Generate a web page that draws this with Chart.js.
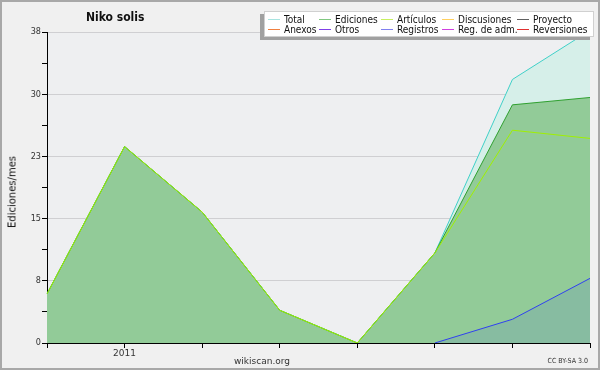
<!DOCTYPE html>
<html><head><meta charset="utf-8">
<script src="https://cdn.jsdelivr.net/npm/chart.js@4.4.1/dist/chart.umd.min.js"></script>
<style>
html,body{margin:0;padding:0;background:#f0f0f0;}
#wrap{position:relative;width:600px;height:370px;overflow:hidden;font-family:"DejaVu Sans Condensed","DejaVu Sans",sans-serif;}
#frame{position:absolute;left:0;top:0;width:596px;height:366px;border:2px solid #a8a8a8;pointer-events:none;}
canvas{position:absolute;left:0;top:0;}
.t{position:absolute;white-space:nowrap;color:#111;}
#legend{position:absolute;left:264px;top:11px;width:328px;height:24px;background:#fff;border:1px solid #d0d0d0;box-shadow:-4px 3px 0 #a0a0a0;}
.li{position:absolute;font-size:10px;line-height:11px;color:#111;white-space:nowrap;}
.li i{position:absolute;top:5px;width:12px;height:1px;}
.li span{position:absolute;top:0;white-space:nowrap;}
</style></head>
<body><div id="wrap">
<canvas id="c" width="600" height="370"></canvas>
<div class="t" style="left:86px;top:10px;font-weight:bold;font-size:12px;">Niko solis</div>
<div class="t" style="left:12px;top:192px;font-size:10px;font-family:'DejaVu Sans',sans-serif;transform:translate(-50%,-50%) rotate(-90deg);">Ediciones/mes</div>
<div class="t" style="left:262px;top:361px;font-size:9px;color:#333;transform:translate(-50%,-50%);font-family:'DejaVu Sans',sans-serif;">wikiscan.org</div>
<div class="t" style="right:12px;top:357px;font-size:7px;color:#333;">CC BY-SA 3.0</div>
<div id="legend"></div>
<div id="frame"></div>
</div>
<script>
const labels = ['', '2011', '', '', '', '', '', ''];
const total     = [6, 24, 16, 4, 0, 11, 32.2, 38.2];
const ediciones = [6, 24, 16, 4, 0, 11, 29.1, 30.0];
const articulos = [6, 24, 16, 4, 0, 11, 26.0, 25.0];
const registros = [null, null, null, null, null, 0, 2.9, 7.9];
const yTicks = [0, 3.8, 7.6, 11.4, 15.2, 19, 22.8, 26.6, 30.4, 34.2, 38];

const legendItems = [
  ['Total', '#a8e4e0'], ['Ediciones', '#80c880'], ['Artículos', '#c8f060'], ['Discusiones', '#ffd060'], ['Proyecto', '#606060'],
  ['Anexos', '#f08040'], ['Otros', '#8040e8'], ['Registros', '#8080f0'], ['Reg. de adm.', '#d040e0'], ['Reversiones', '#e03030']
];
const colX = [3, 54, 116, 177, 252];
const lg = document.getElementById('legend');
legendItems.forEach((it, i) => {
  const col = i % 5, row = Math.floor(i / 5);
  const d = document.createElement('div');
  d.className = 'li';
  d.style.left = colX[col] + 'px';
  d.style.top = (2 + row * 10) + 'px';
  d.innerHTML = '<i style="left:0;background:' + it[1] + '"></i><span style="left:16px">' + it[0] + '</span>';
  lg.appendChild(d);
});

const bgPlugin = {
  id: 'bg',
  beforeDraw(chart) {
    const {ctx, chartArea: a} = chart;
    ctx.save();
    ctx.fillStyle = '#eeeff1';
    ctx.fillRect(a.left, a.top, a.right - a.left, a.bottom - a.top);
    ctx.restore();
  }
};

new Chart(document.getElementById('c'), {
  type: 'line',
  data: {
    labels: labels,
    datasets: [
      {label: 'Total', data: total, borderColor: '#40d0c8', backgroundColor: '#d6efe9', fill: 'origin', order: 4},
      {label: 'Ediciones', data: ediciones, borderColor: '#30a030', backgroundColor: '#92cb98', fill: 'origin', order: 3},
      {label: 'Artículos', data: articulos, borderColor: '#a0f000', backgroundColor: 'rgba(0,0,0,0)', fill: false, order: 1},
      {label: 'Registros', data: registros, borderColor: '#3040f0', backgroundColor: 'rgba(60,80,230,0.12)', fill: 'origin', order: 2}
    ]
  },
  options: {
    responsive: false,
    animation: false,
    devicePixelRatio: 1,
    layout: {padding: {left: 0, right: 10, top: 32, bottom: 0}},
    elements: {line: {borderWidth: 1, tension: 0}, point: {radius: 0}},
    plugins: {legend: {display: false}, title: {display: false}, tooltip: {enabled: false}},
    scales: {
      x: {
        offset: false,
        grid: {drawOnChartArea: false, color: '#000', tickColor: '#000', tickLength: 5},
        border: {color: '#000', width: 1},
        ticks: {autoSkip: false, maxRotation: 0, color: '#333', font: {family: 'DejaVu Sans', size: 9}, padding: 0},
        afterFit(s) { s.height = 27; }
      },
      y: {
        min: 0, max: 38,
        afterBuildTicks(s) { s.ticks = yTicks.map(v => ({value: v})); },
        grid: {
          color: (c) => (c.index % 2 === 0 && c.index > 0) ? '#cfcfd2' : 'rgba(0,0,0,0)',
          tickColor: '#000', tickLength: 5
        },
        border: {color: '#000', width: 1},
        ticks: {
          color: '#333', font: {family: 'DejaVu Sans Condensed', size: 9}, padding: 1,
          callback: function(v, i) { return i % 2 === 0 ? String(Math.round(v)) : ''; }
        },
        afterFit(s) { s.width = 47; }
      }
    }
  },
  plugins: [bgPlugin]
});
</script>
</body></html>
